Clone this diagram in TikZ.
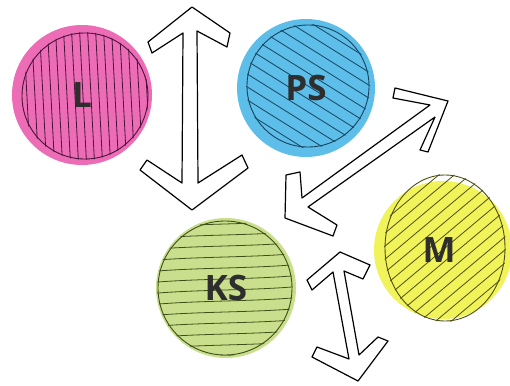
\documentclass[tikz,border=0pt]{standalone}
\usepackage{fontspec}
\newfontfamily\labelfont{Open Sans}
\definecolor{lfill}{HTML}{EC6CB6}
\definecolor{psfill}{HTML}{5DBEE9}
\definecolor{ksfill}{HTML}{C9DF8E}
\definecolor{mfill}{HTML}{F1F35A}
\definecolor{lpen}{HTML}{4A1238}
\definecolor{pspen}{HTML}{17445E}
\definecolor{kspen}{HTML}{3F4F18}
\definecolor{mpen}{HTML}{4F5010}
\definecolor{ink}{HTML}{2E2E2E}
\begin{document}
\begin{tikzpicture}[x=1pt,y=-1pt,
  disc/.style={circle, inner sep=0pt, minimum size=#1, draw=none},
  hatch/.style={line width=0.8pt, line cap=round},
  outline/.style={line width=0.9pt},
  label/.style={font=\labelfont\bfseries\fontsize{35}{35}\selectfont, text=ink, inner sep=0pt},
  blockarrow/.style={draw=black, fill=white, line width=1.2pt, line join=round}]
\useasboundingbox (0,0) rectangle (510,385);

% coloured discs
\node[disc=140pt, fill=lfill]  (L)  at (82,95)  {};
\node[disc=138pt, fill=psfill] (PS) at (306,88) {};
\node[disc=140pt, fill=ksfill] (KS) at (226,288) {};
\node[disc=138pt, fill=mfill]  (M)  at (443,250) {};

% L: near-vertical hatching
\begin{scope}
  \clip (85,96) circle[radius=64];
  \begin{scope}[shift={(85,96)}, rotate=3]
    \foreach \t in {-66,-58,...,68} \draw[hatch, lpen] (\t,-80) -- (\t,80);
  \end{scope}
\end{scope}
\draw[outline, lpen] (85,96) circle[radius=63];

% PS: hatching falling to the right
\begin{scope}
  \clip (308,86) circle[radius=62];
  \begin{scope}[shift={(308,86)}, rotate=-32]
    \foreach \t in {-77,-66,...,77} \draw[hatch, pspen] (-80,\t) -- (80,\t);
  \end{scope}
\end{scope}
\draw[outline, pspen] (308,86) circle[radius=61];

% KS: wavy horizontal hatching
\begin{scope}
  \clip (225,288) circle[radius=68];
  \begin{scope}[shift={(225,288)}, rotate=3]
    \foreach \t in {-64,-53,...,70} \draw[hatch, kspen] (-80,\t) .. controls (-30,\t-2.5) and (30,\t+2.5) .. (80,\t);
  \end{scope}
\end{scope}
\draw[outline, kspen] (225,288) circle[radius=67];

% M: hatching rising to the right
\begin{scope}
  \clip (445,248) ellipse[x radius=61, y radius=74];
  \begin{scope}[shift={(445,248)}, rotate=40]
    \foreach \t in {-80,-70,...,80} \draw[hatch, mpen] (-90,\t) -- (90,\t);
  \end{scope}
\end{scope}
\draw[outline, mpen] (445,248) ellipse[x radius=60, y radius=73];

% labels
\node[label] (Ltext)  at (L)  {L};
\node[label] (PStext) at (PS) {PS};
\node[label] (KStext) at (KS) {KS};
\node[label] (Mtext)  at ([xshift=-4pt]M.center) {M};

% double-headed block arrows
\draw[blockarrow] (192,7) -- (230,33) -- (227,47) -- (197,31) -- (198,183)
  -- (242,155) -- (248,168) -- (192,210) -- (140,170) -- (147,160)
  -- (182,183) -- (183,33) -- (152,53) -- (148,42) -- cycle;

\draw[blockarrow] (285,218) -- (286,175) -- (300,172) -- (302,198) -- (430,105)
  -- (393,98) -- (395,88) -- (448,101) -- (428,152) -- (420,150)
  -- (435,117) -- (308,207) -- (337,225) -- (333,236) -- cycle;

\draw[blockarrow] (340,252) -- (370,265) -- (363,279) -- (344,271) -- (359,355)
  -- (378,337) -- (388,341) -- (358,381) -- (312,357) -- (317,347)
  -- (349,359) -- (333,272) -- (312,290) -- (307,280) -- cycle;
\end{tikzpicture}
\end{document}
